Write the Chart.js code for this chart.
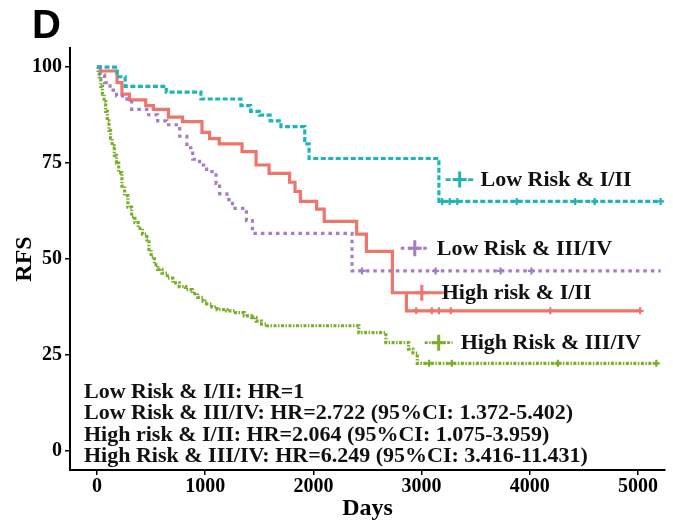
<!DOCTYPE html>
<html>
<head>
<meta charset="utf-8">
<script src="https://cdn.jsdelivr.net/npm/chart.js@4/dist/chart.umd.min.js"></script>
<style>
  html, body { margin: 0; padding: 0; background: #fff; }
  #wrap { width: 673px; height: 525px; }
</style>
</head>
<body>
<div id="wrap"><canvas id="km" width="673" height="525"></canvas></div>
<script>
// ticks
const xTicks = [0, 1000, 2000, 3000, 4000, 5000];
const yTicks = [0, 25, 50, 75, 100];

// Low Risk & I/II
const lowEarlyDays = [0, 185, 260, 640, 960, 1330, 1420, 1500, 1600, 1700, 1920, 1960, 3160, 5210];
const lowEarlyRFS  = [100, 97.5, 95, 93.5, 91.7, 90, 88.5, 87.5, 86, 84.5, 80, 76.2, 65, 65];
const lowEarlyCensor = [3190, 3260, 3330, 3880, 4420, 4600, 5210];

// Low Risk & III/IV
const lowLateDays = [0, 30, 70, 120, 180, 276, 320, 460, 560, 645, 764, 830, 884, 948, 1013, 1100, 1133, 1200, 1252, 1381, 1436, 2357, 5210];
const lowLateRFS  = [100, 98, 96, 94, 92.5, 91, 89, 87.6, 86, 85, 82, 79, 76, 74.5, 72.8, 69.7, 67, 65.5, 63.2, 60, 56.7, 46.9, 46.9];
const lowLateCensor = [2450, 3130, 3730, 4015];

// High risk & I/II
const highEarlyDays = [0, 30, 185, 230, 300, 450, 520, 660, 790, 970, 1040, 1130, 1340, 1470, 1590, 1780, 1830, 1880, 2030, 2100, 2400, 2490, 2730, 2860, 5020];
const highEarlyRFS  = [100, 99, 96, 93, 91.5, 90, 89, 87, 85.8, 83, 81.4, 80, 78, 74.5, 72.3, 70, 67.6, 65, 63, 59.8, 56.5, 52, 41.2, 36.5, 36.5];
const highEarlyCensor = [2950, 3095, 3160, 3270, 4190, 5020];

// High Risk & III/IV
const highLateDays = [0, 10, 20, 35, 50, 65, 80, 95, 110, 125, 140, 160, 180, 200, 230, 255, 285, 320, 350, 380, 420, 460, 480, 500, 530, 560, 600, 650, 700, 760, 820, 880, 930, 980, 1013, 1060, 1110, 1200, 1280, 1360, 1430, 1470, 1520, 1570, 2420, 2670, 2880, 2920, 2960, 5170];
const highLateRFS  = [100, 98.5, 97, 95, 93, 91, 88.5, 86, 83.5, 81.5, 79.5, 77, 75, 72.5, 69, 66.5, 63.5, 61, 59.5, 58, 56.5, 55, 52.5, 50.5, 48.5, 47.3, 46.3, 45, 43.8, 42.8, 42, 41, 40, 39, 38.3, 37.5, 36.8, 36.5, 36, 35.2, 34.7, 33.8, 33, 32.6, 30.8, 28.2, 26.5, 25.5, 22.8, 22.8];
const highLateCensor = [3070, 3280, 4260, 5170];

const groupNames = ['Low Risk & I/II', 'Low Risk & III/IV', 'High risk & I/II', 'High Risk & III/IV'];

const hrLines = [
    'Low Risk & I/II: HR=1',
    'Low Risk & III/IV: HR=2.722 (95%CI: 1.372-5.402)',
    'High risk & I/II: HR=2.064 (95%CI: 1.075-3.959)',
    'High Risk & III/IV: HR=6.249 (95%CI: 3.416-11.431)'
];

const SERIF = '"Liberation Serif", "Times New Roman", serif';

// look of each curve
const styles = [
    { color: '#1db5b9', dash: [5, 2.5] },
    { color: '#a57dc6', dash: [3.5, 4] },
    { color: '#ef756b', dash: [] },
    { color: '#7aae2a', dash: [3, 1.5, 1.5, 1.5] }
];

// where the in-plot labels sit (data units)
const labelPos = [
    { x: 3352, y: 70.7, tx: 3545 },
    { x: 2937, y: 52.8, tx: 3140 },
    { x: 3002, y: 41.2, tx: 3186 },
    { x: 3158, y: 28.2, tx: 3361 }
];

function toPoints(days, rfs) {
    return days.map((d, i) => ({ x: d, y: rfs[i] }));
}

// value of a step curve at a given day
function stepValue(days, rfs, d) {
    let v = rfs[0];
    for (let i = 0; i < days.length; i++) {
        if (days[i] <= d) v = rfs[i];
    }
    return v;
}

const curves = [
    [lowEarlyDays, lowEarlyRFS, lowEarlyCensor],
    [lowLateDays, lowLateRFS, lowLateCensor],
    [highEarlyDays, highEarlyRFS, highEarlyCensor],
    [highLateDays, highLateRFS, highLateCensor]
];

const datasets = [];
curves.forEach((c, i) => {
    datasets.push({
        label: groupNames[i],
        data: toPoints(c[0], c[1]),
        stepped: true,
        borderColor: styles[i].color,
        borderDash: styles[i].dash,
        borderWidth: 3.2,
        pointRadius: 0,
        fill: false
    });
});
curves.forEach((c, i) => {
    datasets.push({
        label: groupNames[i] + ' censor',
        data: c[2].map(d => ({ x: d, y: stepValue(c[0], c[1], d) })),
        showLine: false,
        pointStyle: 'cross',
        pointRadius: 3.5,
        pointBorderWidth: 2.2,
        borderColor: styles[i].color,
        backgroundColor: styles[i].color
    });
});

// panel letter, curve labels, HR block
const annotations = {
    id: 'annotations',
    afterDraw(chart) {
        const ctx = chart.ctx;
        const xs = chart.scales.x;
        const ys = chart.scales.y;
        const area = chart.chartArea;
        ctx.save();

        ctx.fillStyle = '#000';
        ctx.font = 'bold 40px "Liberation Sans", Arial, sans-serif';
        ctx.textBaseline = 'alphabetic';
        ctx.textAlign = 'left';
        ctx.fillText('D', 32, 38);

        labelPos.forEach((p, i) => {
            const px = xs.getPixelForValue(p.x);
            const py = ys.getPixelForValue(p.y);
            ctx.strokeStyle = styles[i].color;
            ctx.lineWidth = 2.8;
            ctx.setLineDash(styles[i].dash);
            ctx.beginPath();
            ctx.moveTo(px - 14, py);
            ctx.lineTo(i === 2 ? px + 22 : px + 14, py);
            ctx.stroke();
            ctx.setLineDash([]);
            ctx.lineWidth = 3;
            ctx.beginPath();
            ctx.moveTo(px - 7, py);
            ctx.lineTo(px + 7, py);
            ctx.moveTo(px, py - 8);
            ctx.lineTo(px, py + 8);
            ctx.stroke();

            ctx.fillStyle = '#111';
            ctx.font = 'bold 22px ' + SERIF;
            ctx.textBaseline = 'middle';
            ctx.fillText(groupNames[i], xs.getPixelForValue(p.tx), py + 1);
        });

        ctx.fillStyle = '#111';
        ctx.font = 'bold 22px ' + SERIF;
        ctx.textBaseline = 'middle';
        hrLines.forEach((t, i) => {
            ctx.fillText(t, area.left + 14, 392 + i * 21.5);
        });
        ctx.restore();
    }
};

const tickFont = { family: SERIF, size: 20, weight: 'bold' };

new Chart(document.getElementById('km'), {
    type: 'line',
    data: { datasets: datasets },
    options: {
        responsive: false,
        animation: false,
        devicePixelRatio: 1,
        layout: { padding: { left: 0, top: 48, right: 8, bottom: 0 } },
        plugins: {
            legend: { display: false },
            tooltip: { enabled: false }
        },
        scales: {
            x: {
                type: 'linear',
                min: -250,
                max: 5250,
                afterBuildTicks: s => { s.ticks = xTicks.map(v => ({ value: v })); },
                afterFit: s => { s.height = 55; },
                grid: { drawOnChartArea: false, drawTicks: true, tickLength: 5, color: '#000', lineWidth: 1.5 },
                border: { display: true, color: '#000', width: 2 },
                ticks: { color: '#000', font: tickFont, padding: 0, maxRotation: 0, callback: v => String(v) },
                title: { display: true, text: 'Days', color: '#000', font: { family: SERIF, size: 24, weight: 'bold' }, padding: { top: 0, bottom: 2 } }
            },
            y: {
                type: 'linear',
                min: -5,
                max: 105,
                afterBuildTicks: s => { s.ticks = yTicks.map(v => ({ value: v })); },
                afterFit: s => { s.width = 70; },
                grid: { drawOnChartArea: false, drawTicks: true, tickLength: 5, color: '#000', lineWidth: 1.5 },
                border: { display: true, color: '#000', width: 2 },
                ticks: { color: '#000', font: tickFont, padding: 3, callback: v => String(v) },
                title: { display: true, text: 'RFS', color: '#000', font: { family: SERIF, size: 24, weight: 'bold' }, padding: { top: 10, bottom: 0 } }
            }
        }
    },
    plugins: [annotations]
});
</script>
</body>
</html>
